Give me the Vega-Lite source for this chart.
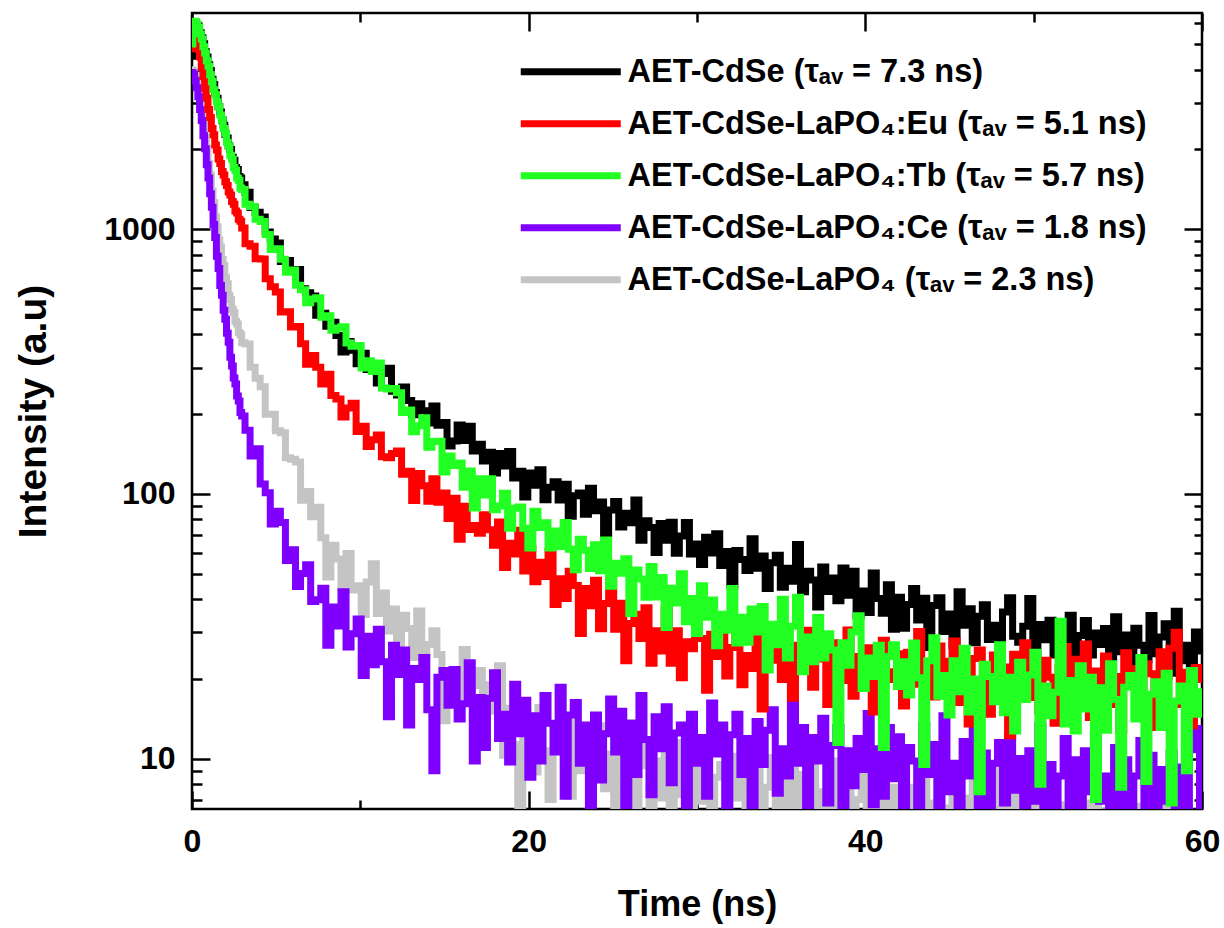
{
"$schema": "https://vega.github.io/schema/vega-lite/v6.json",
"width": 1010,
"height": 796,
"autosize": {"type": "none"},
"padding": {"left": 192, "top": 13, "right": 22, "bottom": 119},
"background": "#ffffff",
"config": {
  "view": {"stroke": "#000000", "strokeWidth": 2.5},
  "font": "Liberation Sans",
  "axis": {"grid": false, "domain": false, "labelFlush": false, "tickColor": "#000000", "tickWidth": 2.5, "labelColor": "#000000", "labelFont": "Liberation Sans", "labelFontWeight": "bold", "labelFontSize": 32, "titleFont": "Liberation Sans", "titleFontWeight": "bold", "titleColor": "#000000", "zindex": 1}
},
"resolve": {"axis": {"x": "independent", "y": "independent"}},
"layer": [
{
  "data": {"values": [
{"t":0,"B":4500,"R":4800,"G":5000,"P":3900,"Y":4000},
{"t":0.1,"B":5600,"R":5400,"G":5800,"P":3850,"Y":3950},
{"t":0.2,"B":6000,"R":5300,"G":6100,"P":3650,"Y":3800},
{"t":0.3,"B":5900,"R":5150,"G":5950,"P":3420,"Y":3620},
{"t":0.4,"B":5650,"R":4780,"G":5780,"P":3160,"Y":3330},
{"t":0.5,"B":5520,"R":4470,"G":5460,"P":2830,"Y":3100},
{"t":0.6,"B":5280,"R":4080,"G":5230,"P":2570,"Y":2780},
{"t":0.7,"B":5010,"R":3770,"G":4880,"P":2250,"Y":2540},
{"t":0.8,"B":4680,"R":3390,"G":4630,"P":2010,"Y":2230},
{"t":0.9,"B":4470,"R":3120,"G":4320,"P":1750,"Y":2020},
{"t":1.0,"B":4180,"R":2830,"G":4120,"P":1560,"Y":1770},
{"t":1.1,"B":3970,"R":2640,"G":3830,"P":1360,"Y":1600},
{"t":1.2,"B":3680,"R":2400,"G":3620,"P":1210,"Y":1390},
{"t":1.3,"B":3520,"R":2270,"G":3360,"P":1040,"Y":1260},
{"t":1.4,"B":3280,"R":2080,"G":3220,"P":930,"Y":1110},
{"t":1.5,"B":3120,"R":1990,"G":3030,"P":790,"Y":1020},
{"t":1.6,"B":2900,"R":1840,"G":2900,"P":710,"Y":910},
{"t":1.7,"B":2770,"R":1770,"G":2700,"P":612,"Y":855},
{"t":1.8,"B":2580,"R":1650,"G":2590,"P":562,"Y":770},
{"t":1.9,"B":2470,"R":1600,"G":2400,"P":494,"Y":728},
{"t":2.0,"B":2280,"R":1510,"G":2300,"P":457,"Y":655},
{"t":2.1,"B":2210,"R":1460,"G":2130,"P":404,"Y":622},
{"t":2.2,"B":2060,"R":1380,"G":2050,"P":374,"Y":562},
{"t":2.3,"B":2000,"R":1345,"G":1900,"P":328,"Y":541},
{"t":2.4,"B":1870,"R":1270,"G":1840,"P":304,"Y":498},
{"t":2.5,"B":1820,"R":1240,"G":1710,"P":274,"Y":484},
{"t":2.6,"B":1710,"R":1170,"G":1670,"P":260,"Y":449},
{"t":2.7,"B":1680,"R":1150,"G":1560,"P":234,"Y":438},
{"t":2.8,"B":1580,"R":1090,"G":1530,"P":224,"Y":407},
{"t":2.9,"B":1560,"R":1070,"G":1430,"P":203,"Y":399},
{"t":3.0,"B":1470,"R":1010,"G":1410,"P":197,"Y":372},
{"t":3.3,"B":1377,"R":881,"G":1241,"P":174,"Y":368},
{"t":3.6,"B":1206,"R":862,"G":1217,"P":139,"Y":301},
{"t":3.9,"B":1157,"R":772,"G":1090,"P":148,"Y":273},
{"t":4.2,"B":1110,"R":771,"G":1068,"P":109,"Y":254},
{"t":4.5,"B":974,"R":649,"G":954,"P":101,"Y":200},
{"t":4.8,"B":917,"R":605,"G":838,"P":77,"Y":200},
{"t":5.1,"B":886,"R":578,"G":843,"P":86,"Y":173},
{"t":5.4,"B":755,"R":486,"G":770,"P":78,"Y":170},
{"t":5.7,"B":761,"R":487,"G":687,"P":56,"Y":137},
{"t":6.0,"B":692,"R":427,"G":701,"P":61.5,"Y":135},
{"t":6.3,"B":704,"R":429,"G":613,"P":44.7,"Y":132},
{"t":6.6,"B":595,"R":369,"G":590,"P":50,"Y":94.5},
{"t":6.9,"B":575,"R":309,"G":527,"P":54,"Y":102},
{"t":7.2,"B":559,"R":333,"G":544,"P":39.2,"Y":82},
{"t":7.5,"B":473,"R":301,"G":550,"P":39.8,"Y":89},
{"t":7.8,"B":481,"R":260,"G":465,"P":44,"Y":68.3},
{"t":8.1,"B":430,"R":283,"G":471,"P":26.8,"Y":48.5},
{"t":8.4,"B":445,"R":235,"G":415,"P":37.4,"Y":64},
{"t":8.7,"B":396,"R":228,"G":423,"P":31.7,"Y":56.7},
{"t":9.0,"B":343,"R":195,"G":428,"P":42.7,"Y":44.6},
{"t":9.3,"B":376,"R":211,"G":371,"P":26.4,"Y":59.5},
{"t":9.6,"B":349,"R":220,"G":361,"P":29.6,"Y":43.3},
{"t":9.9,"B":310,"R":172,"G":363,"P":33.7,"Y":45},
{"t":10.2,"B":340,"R":180,"G":299,"P":20.6,"Y":35},
{"t":10.5,"B":295,"R":151,"G":318,"P":29,"Y":46.5},
{"t":10.8,"B":294,"R":160,"G":290,"P":22.6,"Y":54.5},
{"t":11.1,"B":262,"R":167,"G":312,"P":30.8,"Y":35.3},
{"t":11.4,"B":285,"R":138,"G":251,"P":23.2,"Y":42.2},
{"t":11.7,"B":298,"R":137,"G":249,"P":14.4,"Y":30.3},
{"t":12.0,"B":244,"R":142,"G":250,"P":26.8,"Y":36.7},
{"t":12.3,"B":236,"R":145,"G":241,"P":20.8,"Y":25.6},
{"t":12.6,"B":253,"R":118.6,"G":203,"P":25.7,"Y":34.8},
{"t":12.9,"B":225,"R":121.8,"G":207.5,"P":13.4,"Y":31},
{"t":13.2,"B":199,"R":94.4,"G":171.5,"P":21.9,"Y":24.1},
{"t":13.5,"B":219,"R":119.4,"G":180.7,"P":19.9,"Y":36.1},
{"t":13.8,"B":206,"R":107.4,"G":193.7,"P":24.1,"Y":24.4},
{"t":14.1,"B":185,"R":93.8,"G":150,"P":15.3,"Y":27},
{"t":14.4,"B":214.7,"R":114,"G":157.7,"P":9.0,"Y":30.4},
{"t":14.7,"B":181.5,"R":93,"G":158,"P":20.3,"Y":24.7},
{"t":15.0,"B":186,"R":100.8,"G":121,"P":21.5,"Y":13.9},
{"t":15.3,"B":151.5,"R":80.7,"G":139,"P":15.9,"Y":18.4},
{"t":15.6,"B":158.5,"R":96.2,"G":128,"P":21.7,"Y":21.5},
{"t":15.9,"B":182,"R":67.4,"G":130.7,"P":14.1,"Y":15.8},
{"t":16.2,"B":159,"R":89.7,"G":106,"P":16.1,"Y":25.8},
{"t":16.5,"B":180,"R":73.3,"G":122,"P":23,"Y":17},
{"t":16.8,"B":145,"R":76,"G":88.5,"P":9.8,"Y":18.9},
{"t":17.1,"B":154,"R":71,"G":114,"P":17,"Y":21.5},
{"t":17.4,"B":133,"R":83.4,"G":99,"P":11,"Y":11.6},
{"t":17.7,"B":143.7,"R":73.2,"G":114,"P":16.9,"Y":19},
{"t":18.0,"B":120,"R":64,"G":87,"P":21.1,"Y":15.1},
{"t":18.3,"B":142,"R":78.2,"G":90,"P":11.9,"Y":22.4},
{"t":18.6,"B":127.5,"R":52.7,"G":100.5,"P":14.7,"Y":10.3},
{"t":18.9,"B":144.5,"R":65,"G":74.2,"P":9.7,"Y":15.5},
{"t":19.2,"B":114.8,"R":59.3,"G":88.3,"P":19.1,"Y":11.3},
{"t":19.5,"B":121.8,"R":72.8,"G":89.2,"P":12.4,"Y":6.6},
{"t":19.8,"B":97.2,"R":51.1,"G":74.2,"P":16.6,"Y":14.9},
{"t":20.1,"B":119.8,"R":62.2,"G":62.5,"P":8.5,"Y":12.1},
{"t":20.4,"B":107.8,"R":46.6,"G":86,"P":14.5,"Y":8.9},
{"t":20.7,"B":123.3,"R":55.2,"G":74.6,"P":9.8,"Y":15.6},
{"t":21.0,"B":95,"R":48.7,"G":77.7,"P":17.3,"Y":10.7},
{"t":21.3,"B":106,"R":60.5,"G":62.5,"P":13.6,"Y":7.0},
{"t":21.6,"B":111,"R":38.2,"G":72.4,"P":10.6,"Y":12.7},
{"t":21.9,"B":94.8,"R":47.8,"G":63.3,"P":18.6,"Y":11.1},
{"t":22.2,"B":108.7,"R":40.2,"G":77.9,"P":7.2,"Y":11.3},
{"t":22.5,"B":82.3,"R":51,"G":61.8,"P":14.6,"Y":7.2},
{"t":22.8,"B":98.4,"R":45.1,"G":51.7,"P":16.3,"Y":15.6},
{"t":23.1,"B":100.7,"R":29.7,"G":67.4,"P":9.6,"Y":9.0},
{"t":23.4,"B":83.7,"R":43.9,"G":61.2,"P":13.4,"Y":12.3},
{"t":23.7,"B":105,"R":37.8,"G":52.2,"P":5.6,"Y":5.4},
{"t":24.0,"B":86.4,"R":47.2,"G":64.2,"P":14.6,"Y":9.8},
{"t":24.3,"B":93.2,"R":30.9,"G":51.2,"P":8.3,"Y":13.3},
{"t":24.6,"B":70.4,"R":38.5,"G":67,"P":12.4,"Y":7.7},
{"t":24.9,"B":86.8,"R":47.1,"G":44.8,"P":16.8,"Y":10.4},
{"t":25.2,"B":93.5,"R":30.8,"G":54.7,"P":10.6,"Y":4.5},
{"t":25.5,"B":75,"R":38.6,"G":50.1,"P":15.1,"Y":10.8},
{"t":25.8,"B":84.5,"R":23.4,"G":56.8,"P":6.0,"Y":8.3},
{"t":26.1,"B":77.7,"R":32.4,"G":35.3,"P":13.6,"Y":13.7},
{"t":26.4,"B":94.7,"R":35.1,"G":51.6,"P":8.7,"Y":6.4},
{"t":26.7,"B":66.8,"R":28.4,"G":47.7,"P":17.3,"Y":9.4},
{"t":27.0,"B":79.2,"R":37.1,"G":40.7,"P":11.8,"Y":11.4},
{"t":27.3,"B":74.6,"R":22.9,"G":53.1,"P":7.3,"Y":5.2},
{"t":27.6,"B":60.1,"R":30.4,"G":40.8,"P":14.4,"Y":9.8},
{"t":27.9,"B":77.2,"R":25.5,"G":48.3,"P":10.9,"Y":7.1},
{"t":28.2,"B":66.8,"R":36.9,"G":31.3,"P":15.7,"Y":10.5},
{"t":28.5,"B":78.1,"R":22.9,"G":44,"P":8.1,"Y":5.8},
{"t":28.8,"B":59.7,"R":30.4,"G":38.7,"P":12.5,"Y":11.5},
{"t":29.1,"B":69.3,"R":20.2,"G":49.9,"P":13.4,"Y":7.3},
{"t":29.4,"B":77.9,"R":27.6,"G":32.9,"P":6.0,"Y":9.5},
{"t":29.7,"B":59.2,"R":26,"G":40.2,"P":14.7,"Y":3.3},
{"t":30.0,"B":64.6,"R":31.1,"G":29.7,"P":9.6,"Y":10.3},
{"t":30.3,"B":54.1,"R":28.4,"G":45,"P":12,"Y":6.9},
{"t":30.6,"B":68.6,"R":18.1,"G":34.2,"P":7.2,"Y":11.5},
{"t":30.9,"B":59.8,"R":29.5,"G":39.7,"P":16.2,"Y":5.7},
{"t":31.2,"B":70.6,"R":24.3,"G":26.7,"P":10.4,"Y":8.5},
{"t":31.5,"B":53.6,"R":34.7,"G":35.1,"P":13.4,"Y":9.5},
{"t":31.8,"B":60.5,"R":20.5,"G":30.5,"P":6.1,"Y":5.0},
{"t":32.1,"B":45.3,"R":26.3,"G":43.9,"P":12.3,"Y":10.2},
{"t":32.4,"B":61.1,"R":29.1,"G":27.3,"P":14.7,"Y":7.1},
{"t":32.7,"B":56.5,"R":19,"G":34.2,"P":8.7,"Y":11.7},
{"t":33.0,"B":51.3,"R":24.5,"G":27.5,"P":11.9,"Y":5.9},
{"t":33.3,"B":67.7,"R":21.9,"G":36.7,"P":5.0,"Y":8.3},
{"t":33.6,"B":52.3,"R":30.6,"G":30.1,"P":13.8,"Y":9.7},
{"t":33.9,"B":58.3,"R":15.4,"G":37.5,"P":9.5,"Y":3.7},
{"t":34.2,"B":43.9,"R":26.5,"G":21.6,"P":12.8,"Y":7.8},
{"t":34.5,"B":54.9,"R":23.5,"G":32.2,"P":15.3,"Y":10.1},
{"t":34.8,"B":58.6,"R":29.2,"G":26.9,"P":7.4,"Y":5.0},
{"t":35.1,"B":44.4,"R":19.9,"G":40,"P":10.9,"Y":8.4},
{"t":35.4,"B":52.3,"R":25.1,"G":24,"P":8.6,"Y":6.5},
{"t":35.7,"B":46.8,"R":16.9,"G":31.6,"P":16.1,"Y":10.5},
{"t":36.0,"B":64.4,"R":26.8,"G":40.7,"P":9.6,"Y":4.2},
{"t":36.3,"B":42.7,"R":22,"G":21.3,"P":13.1,"Y":8.7},
{"t":36.6,"B":51,"R":30.5,"G":28.8,"P":6,"Y":5.8},
{"t":36.9,"B":47.3,"R":18.6,"G":23.2,"P":12,"Y":11.6},
{"t":37.2,"B":37.4,"R":25.2,"G":34.1,"P":9.8,"Y":4.9},
{"t":37.5,"B":52.9,"R":23.8,"G":24,"P":14.2,"Y":7.5},
{"t":37.8,"B":42.8,"R":16,"G":29.6,"P":6.8,"Y":6.6},
{"t":38.1,"B":48.1,"R":27.4,"G":25.7,"P":11.2,"Y":9.8},
{"t":38.4,"B":39.5,"R":24,"G":11.5,"P":13.1,"Y":2.7},
{"t":38.7,"B":52.5,"R":19.7,"G":27.4,"P":5.4,"Y":7.8},
{"t":39.0,"B":41.4,"R":30.6,"G":22.5,"P":10.7,"Y":8.6},
{"t":39.3,"B":51,"R":17.2,"G":30.1,"P":7.9,"Y":5.2},
{"t":39.6,"B":34.6,"R":24.3,"G":34.6,"P":11.9,"Y":7.0},
{"t":39.9,"B":43,"R":20.9,"G":18.4,"P":9.1,"Y":10.3},
{"t":40.2,"B":35.6,"R":26.2,"G":24,"P":14.8,"Y":3.5},
{"t":40.5,"B":50.2,"R":15,"G":20.4,"P":6.7,"Y":7.4},
{"t":40.8,"B":40.2,"R":24.8,"G":26.8,"P":10.9,"Y":5.5},
{"t":41.1,"B":35.4,"R":28,"G":11,"P":7.2,"Y":8.8},
{"t":41.4,"B":45.4,"R":19.9,"G":24.3,"P":13.1,"Y":3.2},
{"t":41.7,"B":30.8,"R":21.3,"G":26.9,"P":8.4,"Y":7.8},
{"t":42.0,"B":40.7,"R":24.9,"G":18.7,"P":12.1,"Y":6.4},
{"t":42.3,"B":31.1,"R":15.8,"G":23.2,"P":4.6,"Y":9.5},
{"t":42.6,"B":38.2,"R":25.2,"G":17.4,"P":11,"Y":4.5},
{"t":42.9,"B":43.9,"R":19.1,"G":27.3,"P":9.8,"Y":7.8},
{"t":43.2,"B":33.4,"R":30.2,"G":20.2,"P":6.6,"Y":5.8},
{"t":43.5,"B":40.3,"R":20.4,"G":9.5,"P":13.4,"Y":8.7},
{"t":43.8,"B":26.3,"R":22.7,"G":23.4,"P":8.7,"Y":2.5},
{"t":44.1,"B":37.9,"R":17.1,"G":28.6,"P":11.3,"Y":6.8},
{"t":44.4,"B":40.5,"R":26.6,"G":17.2,"P":5.6,"Y":8.1},
{"t":44.7,"B":30.2,"R":18.4,"G":20.6,"P":14.5,"Y":3.9},
{"t":45.0,"B":35.2,"R":23.3,"G":14.6,"P":7.5,"Y":6.5},
{"t":45.3,"B":26.7,"R":27.8,"G":23.4,"P":9.6,"Y":9.2},
{"t":45.6,"B":42.7,"R":16.3,"G":17.9,"P":5,"Y":4.5},
{"t":45.9,"B":31.9,"R":21.7,"G":26.1,"P":11.6,"Y":7.1},
{"t":46.2,"B":36.8,"R":13.5,"G":15,"P":8.6,"Y":3.2},
{"t":46.5,"B":27.4,"R":23.9,"G":20,"P":13.3,"Y":8.1},
{"t":46.8,"B":34.5,"R":25.7,"G":7.5,"P":6.4,"Y":5.1},
{"t":47.1,"B":38.1,"R":19.2,"G":22.7,"P":10.5,"Y":7.2},
{"t":47.4,"B":28.2,"R":14.7,"G":20.4,"P":3.1,"Y":5.3},
{"t":47.7,"B":31.9,"R":24.6,"G":16.4,"P":9.6,"Y":9.5},
{"t":48.0,"B":23.2,"R":19.5,"G":26.9,"P":11.5,"Y":3.8},
{"t":48.3,"B":35.8,"R":22.2,"G":14.9,"P":6.8,"Y":6.7},
{"t":48.6,"B":40.5,"R":12.2,"G":20.3,"P":12.1,"Y":4.7},
{"t":48.9,"B":29,"R":24.8,"G":12.7,"P":7.6,"Y":8.3},
{"t":49.2,"B":27.5,"R":18.4,"G":23.1,"P":10,"Y":3.2},
{"t":49.5,"B":31.6,"R":27.4,"G":16.7,"P":4.4,"Y":7.3},
{"t":49.8,"B":40.2,"R":17,"G":20.7,"P":10.7,"Y":5.4},
{"t":50.1,"B":24.2,"R":21.3,"G":25.2,"P":6.9,"Y":8.9},
{"t":50.4,"B":32.1,"R":15.1,"G":8,"P":13.3,"Y":4.2},
{"t":50.7,"B":28.1,"R":23.5,"G":18.8,"P":5.7,"Y":6},
{"t":51.0,"B":33.3,"R":20.3,"G":14.5,"P":9.5,"Y":7.6},
{"t":51.3,"B":24.6,"R":13.6,"G":17.8,"P":5.1,"Y":2.3},
{"t":51.6,"B":31.9,"R":22,"G":33,"P":8.6,"Y":6.7},
{"t":51.9,"B":26.4,"R":26.5,"G":13.5,"P":11.9,"Y":4.8},
{"t":52.2,"B":34.8,"R":17,"G":19.7,"P":6.2,"Y":8.3},
{"t":52.5,"B":21.3,"R":23.7,"G":12.7,"P":9.9,"Y":3.6},
{"t":52.8,"B":29.2,"R":18.8,"G":22.4,"P":3.5,"Y":6.1},
{"t":53.1,"B":33.2,"R":27.1,"G":15.4,"P":10.7,"Y":6.8},
{"t":53.4,"B":24.6,"R":14.3,"G":20.3,"P":7.5,"Y":2.6},
{"t":53.7,"B":29.8,"R":21.4,"G":7,"P":12.4,"Y":7.7},
{"t":54.0,"B":27,"R":17.4,"G":18.5,"P":6.9,"Y":4.9},
{"t":54.3,"B":31,"R":24.4,"G":12.8,"P":8.6,"Y":6.3},
{"t":54.6,"B":21.5,"R":16,"G":22.8,"P":5.2,"Y":2.3},
{"t":54.9,"B":34.3,"R":20.4,"G":16.7,"P":11,"Y":7.1},
{"t":55.2,"B":25.3,"R":12.8,"G":7.8,"P":6.5,"Y":4.1},
{"t":55.5,"B":29.3,"R":25.1,"G":18.6,"P":9.9,"Y":8.8},
{"t":55.8,"B":22.5,"R":19,"G":20.6,"P":3.1,"Y":5.2},
{"t":56.1,"B":31.1,"R":21.9,"G":14.1,"P":8.6,"Y":3.2},
{"t":56.4,"B":26.8,"R":14.9,"G":24.1,"P":11.7,"Y":6.6},
{"t":56.7,"B":23.6,"R":22.8,"G":8.2,"P":5.6,"Y":4.3},
{"t":57.0,"B":34.7,"R":20.9,"G":17.5,"P":10.3,"Y":7.7},
{"t":57.3,"B":24.9,"R":13.1,"G":19.5,"P":4.4,"Y":2.8},
{"t":57.6,"B":28.8,"R":25.3,"G":13.1,"P":9.1,"Y":5.8},
{"t":57.9,"B":32.3,"R":20.4,"G":21,"P":6.9,"Y":7.1},
{"t":58.2,"B":21,"R":26.1,"G":6.8,"P":10.5,"Y":3.7},
{"t":58.5,"B":36,"R":30,"G":16.5,"P":3.7,"Y":5.9},
{"t":58.8,"B":23.4,"R":16,"G":18.8,"P":9.3,"Y":1.6},
{"t":59.1,"B":26.8,"R":21.2,"G":9,"P":5.1,"Y":7.2},
{"t":59.4,"B":20.2,"R":13.3,"G":21.5,"P":10.8,"Y":5.4},
{"t":59.7,"B":30.1,"R":22.1,"G":14.7,"P":13,"Y":3.4},
{"t":60.0,"B":25.5,"R":19.9,"G":17.9,"P":6.1,"Y":6.3}
  ]},
  "transform": [{"fold": ["Y", "P", "B", "R", "G"], "as": ["k", "v"]}],
  "mark": {"type": "line", "interpolate": "step", "strokeWidth": 7, "clip": true},
  "encoding": {
    "x": {"field": "t", "type": "quantitative", "scale": {"domain": [0, 60], "nice": false, "zero": false},
      "axis": {"orient": "bottom", "values": [0, 20, 40, 60], "tickSize": -18, "labelPadding": 35, "labelFontSize": 32, "title": "Time (ns)", "titleFontSize": 36, "titlePadding": 30}},
    "y": {"field": "v", "type": "quantitative", "scale": {"type": "log", "domain": [6.45, 6550], "nice": false},
      "axis": {"orient": "left", "values": [10, 100, 1000], "format": "d", "tickSize": -18, "labelPadding": 35, "labelFontSize": 32, "title": "Intensity (a.u)", "titleFontSize": 39, "titleX": -147, "titleY": 398, "titleAngle": -90, "titleAlign": "center", "titleBaseline": "alphabetic"}},
    "color": {"field": "k", "type": "nominal",
      "scale": {"domain": ["B", "R", "G", "P", "Y"], "range": ["#000000", "#ff0000", "#22ff22", "#7f00ff", "#c4c4c4"]},
      "legend": {"orient": "none", "legendX": 362.5, "legendY": 42.5, "title": null, "padding": 0, "symbolType": "M-4,0H4", "symbolSize": 625, "symbolStrokeWidth": 7, "labelFont": "Liberation Sans", "labelFontWeight": "bold", "labelFontSize": 32.5, "labelColor": "#000000", "labelLimit": 900, "labelOffset": 40.5, "rowPadding": 19,
        "labelExpr": "datum.value == 'B' ? 'AET-CdSe (τₐᵥ = 7.3 ns)' : datum.value == 'R' ? 'AET-CdSe-LaPO₄:Eu (τₐᵥ = 5.1 ns)' : datum.value == 'G' ? 'AET-CdSe-LaPO₄:Tb (τₐᵥ = 5.7 ns)' : datum.value == 'P' ? 'AET-CdSe-LaPO₄:Ce (τₐᵥ = 1.8 ns)' : 'AET-CdSe-LaPO₄ (τₐᵥ = 2.3 ns)'"}}
  }
},
{
  "data": {"values": [{"t": 30, "v": 100}]},
  "mark": {"type": "point", "opacity": 0},
  "encoding": {
    "x": {"field": "t", "type": "quantitative", "scale": {"domain": [0, 60], "nice": false, "zero": false},
      "axis": {"orient": "top", "values": [0, 20, 40, 60], "tickSize": -18, "labels": false, "title": null}},
    "y": {"field": "v", "type": "quantitative", "scale": {"type": "log", "domain": [6.45, 6550], "nice": false},
      "axis": {"orient": "left", "values": [7, 8, 9, 20, 30, 40, 50, 60, 70, 80, 90, 200, 300, 400, 500, 600, 700, 800, 900, 2000, 3000, 4000, 5000, 6000], "tickSize": -10, "labels": false, "title": null}}
  }
},
{
  "data": {"values": [{"t": 30, "v": 100}]},
  "mark": {"type": "point", "opacity": 0},
  "encoding": {
    "x": {"field": "t", "type": "quantitative", "scale": {"domain": [0, 60], "nice": false, "zero": false},
      "axis": {"orient": "bottom", "values": [10, 30, 50], "tickSize": -9, "labels": false, "title": null}},
    "y": {"field": "v", "type": "quantitative", "scale": {"type": "log", "domain": [6.45, 6550], "nice": false},
      "axis": {"orient": "right", "values": [10, 100, 1000], "tickSize": -18, "labels": false, "title": null}}
  }
},
{
  "data": {"values": [{"t": 30, "v": 100}]},
  "mark": {"type": "point", "opacity": 0},
  "encoding": {
    "x": {"field": "t", "type": "quantitative", "scale": {"domain": [0, 60], "nice": false, "zero": false},
      "axis": {"orient": "top", "values": [10, 30, 50], "tickSize": -9, "labels": false, "title": null}},
    "y": {"field": "v", "type": "quantitative", "scale": {"type": "log", "domain": [6.45, 6550], "nice": false},
      "axis": {"orient": "right", "values": [7, 8, 9, 20, 30, 40, 50, 60, 70, 80, 90, 200, 300, 400, 500, 600, 700, 800, 900, 2000, 3000, 4000, 5000, 6000], "tickSize": -8, "labels": false, "title": null}}
  }
}
]
}
